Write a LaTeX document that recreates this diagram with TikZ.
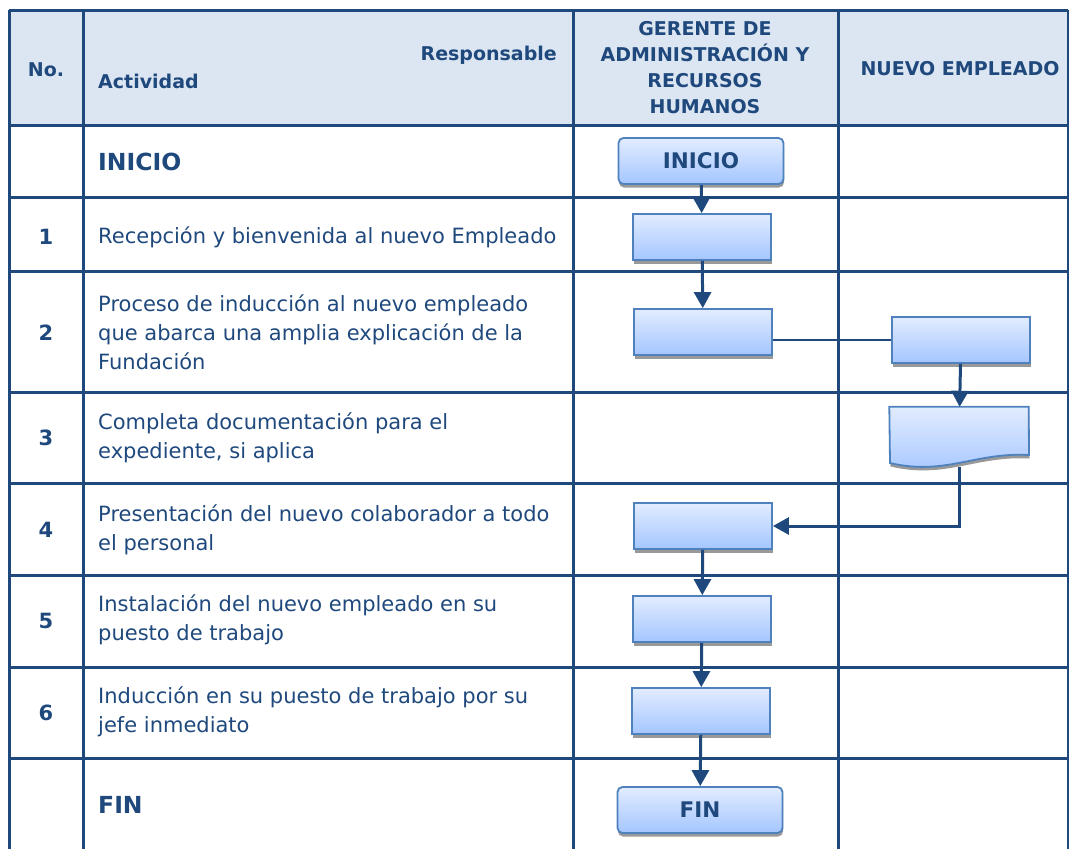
\documentclass[tikz,border=0pt]{standalone}
\usepackage{fontspec}
\setmainfont{DejaVu Sans}
\usetikzlibrary{arrows.meta,positioning,shadows}
\definecolor{azuloscuro}{RGB}{31,73,125}
\definecolor{cabecera}{RGB}{220,230,242}
\definecolor{cajaarriba}{RGB}{226,236,255}
\definecolor{cajaabajo}{RGB}{164,198,255}
\definecolor{bordecaja}{RGB}{79,129,189}

\begin{document}
\begin{tikzpicture}[
    x=1pt, y=-1pt,
    rejilla/.style={draw=azuloscuro, line width=3pt},
    cab/.style={
        text=azuloscuro,
        font=\bfseries\fontsize{19}{26}\selectfont,
        inner sep=0pt
    },
    etiq/.style={
        anchor=west,
        text=azuloscuro,
        font=\bfseries\fontsize{23.5}{28}\selectfont,
        inner sep=0pt
    },
    num/.style={
        text=azuloscuro,
        font=\bfseries\fontsize{21}{24}\selectfont,
        inner sep=0pt
    },
    act/.style={
        anchor=west,
        align=left,
        text=azuloscuro,
        font=\fontsize{21}{29}\selectfont,
        inner sep=0pt
    },
    sombra/.style={
        drop shadow={shadow xshift=0.5pt, shadow yshift=-3.5pt,
                     fill=black!40, opacity=1}
    },
    caja/.style={
        draw=bordecaja,
        line width=1.8pt,
        top color=cajaarriba,
        bottom color=cajaabajo,
        minimum width=138pt,
        minimum height=46pt,
        sombra
    },
    terminal/.style={
        caja,
        rounded corners=5pt,
        minimum width=165pt,
        text=azuloscuro,
        font=\bfseries\fontsize{21.5}{24}\selectfont
    },
    docu/.style={minimum width=139pt, minimum height=60pt, inner sep=0pt},
    docforma/.style={
        draw=bordecaja,
        line width=1.8pt,
        top color=cajaarriba,
        bottom color=cajaabajo,
        sombra
    },
    flecha/.style={-{Triangle[length=16pt,width=17pt]}, draw=azuloscuro, line width=3pt},
    linea/.style={draw=azuloscuro, line width=2.5pt}
]
\useasboundingbox (0,0) rectangle (1069,849);

% tabla
\fill[cabecera] (9,10) rectangle (1068,125);
\foreach \y in {10,125,197,271,392,483,575,667,758}
    \draw[rejilla] (9,\y) -- (1068,\y);
\foreach \x in {9,83,573,838,1068}
    \draw[rejilla] (\x,10) -- (\x,849);

% cabecera
\node[cab] (no) at (46,70) {No.};
\node[cab, anchor=west] (actividad) at (98,81) {Actividad};
\node[cab, anchor=east] (responsable) at (557,55) {Responsable};
\node[cab, align=center] (gerente) at (705,68)
    {GERENTE DE\\ADMINISTRACIÓN Y\\RECURSOS\\HUMANOS};
\node[cab] (nuevo) at (960,69) {NUEVO EMPLEADO};

% filas
\node[etiq] (tinicio) at (98,162) {INICIO};
\node[num] (n1) at (46,237) {1};
\node[num] (n2) at (46,333) {2};
\node[num] (n3) at (46,438) {3};
\node[num] (n4) at (46,530) {4};
\node[num] (n5) at (46,621) {5};
\node[num] (n6) at (46,713) {6};
\node[etiq] (tfin) at (98,805) {FIN};

\node[act] (a1) at (98,237) {Recepción y bienvenida al nuevo Empleado};
\node[act] (a2) at (98,332) {Proceso de inducción al nuevo empleado\\
    que abarca una amplia explicación de la\\Fundación};
\node[act] (a3) at (98,438) {Completa documentación para el\\expediente, si aplica};
\node[act] (a4) at (98,530) {Presentación del nuevo colaborador a todo\\el personal};
\node[act] (a5) at (98,620) {Instalación del nuevo empleado en su\\puesto de trabajo};
\node[act] (a6) at (98,712) {Inducción en su puesto de trabajo por su\\jefe inmediato};

% diagrama
\node[terminal] (inicio) at (701,161) {INICIO};
\node[caja] (b1) at (702,237) {};
\node[caja] (b2) at (703,332) {};
\node[caja] (b3) at (961,340) {};
\node[docu] (doc) at (959,437) {};
\shadedraw[docforma] (doc.north west) -- (doc.north east) -- (1029,455)
    .. controls (975,452) and (945,476) .. (890,463) -- cycle;
\node[caja] (b4) at (703,526) {};
\node[caja] (b5) at (702,619) {};
\node[caja] (b6) at (701,711) {};
\node[terminal] (fin) at (700,810) {FIN};

\draw[flecha] (inicio) -- (b1);
\draw[flecha] (b1) -- (b2);
\draw[linea] (b2.east |- b3.west) -- (b3.west);
\draw[flecha] (b3) -- (doc);
\draw[flecha] (doc.south) |- (b4.east);
\draw[flecha] (b4) -- (b5);
\draw[flecha] (b5) -- (b6);
\draw[flecha] (b6) -- (fin);

\end{tikzpicture}
\end{document}
